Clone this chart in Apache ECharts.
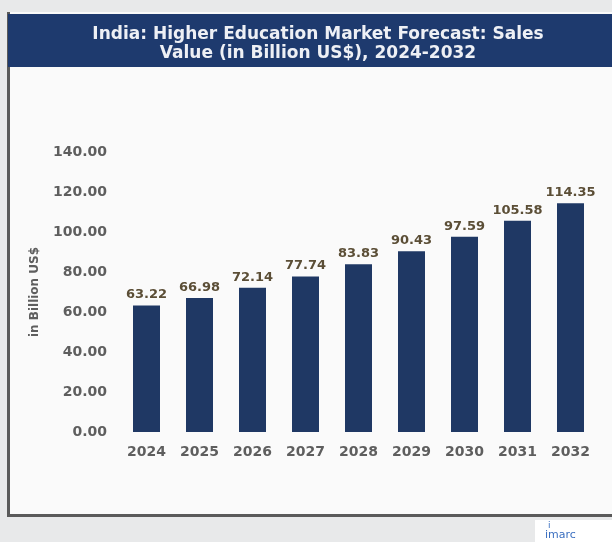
<!DOCTYPE html>
<html>
<head>
<meta charset="utf-8">
<script src="https://cdn.jsdelivr.net/npm/echarts@6/dist/echarts.min.js"></script>
<style>
html,body{margin:0;padding:0;background:#e8e9ea;}
#chart{width:612px;height:542px;}
</style>
</head>
<body>
<div id="chart"></div>
<script>
const categories = ['2024','2025','2026','2027','2028','2029','2030','2031','2032'];
const salesValues = [63.22, 66.98, 72.14, 77.74, 83.83, 90.43, 97.59, 105.58, 114.35];
const yTicks = {min: 0, max: 140, interval: 20};
const titleLines = 'India: Higher Education Market Forecast: Sales\nValue (in Billion US$), 2024-2032';
const yAxisName = 'in Billion US$';

const chart = echarts.init(document.getElementById('chart'), null, {renderer: 'canvas'});
const font = 'DejaVu Sans';
chart.setOption({
  backgroundColor: '#e8e9ea',
  animation: false,
  graphic: {
    z: -10,
    elements: [
      {type: 'rect', shape: {x: 7, y: 12, width: 610, height: 505}, style: {fill: '#5a5a5a'}, z: -10},
      {type: 'rect', shape: {x: 10, y: 12, width: 605, height: 502}, style: {fill: '#fafafa'}, z: -9},
      {type: 'rect', shape: {x: 8, y: 14, width: 610, height: 53}, style: {fill: '#1e3a6e'}, z: -8},
      {type: 'rect', shape: {x: 535, y: 520, width: 80, height: 22}, style: {fill: '#ffffff'}, z: -9},
      {type: 'text', x: 548, y: 521, style: {text: 'i', fill: '#3b6fc0', font: '9px ' + font}, z: -7},
      {type: 'text', x: 545, y: 530, style: {text: 'imarc', fill: '#3b6fc0', font: '11px ' + font}, z: -7}
    ]
  },
  title: {
    text: titleLines,
    left: 313, top: 20, textAlign: 'center', z: 10,
    textStyle: {color: '#eef0f5', fontFamily: font, fontWeight: 'bold', fontSize: 17, lineHeight: 19}
  },
  grid: {left: 120, right: 15, top: 152, bottom: 110, containLabel: false},
  xAxis: {
    type: 'category', data: categories, z: 10,
    axisLine: {show: false}, axisTick: {show: false},
    axisLabel: {color: '#5e5e5e', fontFamily: font, fontWeight: 'bold', fontSize: 14, margin: 13}
  },
  yAxis: {
    type: 'value', min: yTicks.min, max: yTicks.max, interval: yTicks.interval, z: 10,
    name: yAxisName, nameLocation: 'middle', nameGap: 79, nameRotate: 90,
    nameTextStyle: {color: '#5e5e5e', fontFamily: font, fontWeight: 'bold', fontSize: 12},
    axisLine: {show: false}, axisTick: {show: false}, splitLine: {show: false},
    axisLabel: {color: '#5e5e5e', fontFamily: font, fontWeight: 'bold', fontSize: 14, margin: 13,
      formatter: v => v.toFixed(2)}
  },
  series: [{
    type: 'bar', data: salesValues, barWidth: 27, z: 5,
    itemStyle: {color: '#1f3864'},
    label: {show: true, position: 'top', distance: 4, color: '#5b4e36', fontFamily: font, fontWeight: 'bold', fontSize: 13,
      formatter: p => p.value.toFixed(2)}
  }]
});
</script>
</body>
</html>
